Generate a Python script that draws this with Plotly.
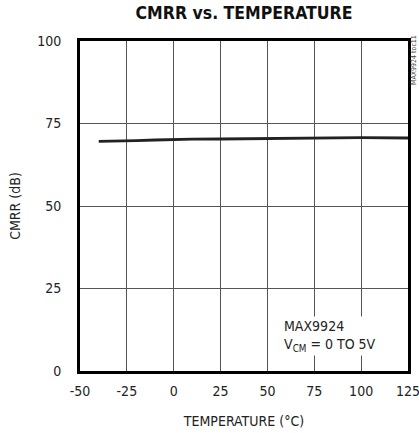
import plotly.graph_objects as go

temperature = [-40, -30, -20, -10, 0, 10, 25, 50, 75, 100, 125]
cmrr_db = [69.6, 69.6, 69.8, 70.0, 70.2, 70.25, 70.3, 70.4, 70.7, 70.7, 70.6]

x_ticks = [-50, -25, 0, 25, 50, 75, 100, 125]
x_tick_labels = ["-50", "-25", "0", "25", "50", "75", "100", "125"]
y_ticks = [0, 25, 50, 75, 100]

FONT = "DejaVu Sans Condensed, Liberation Sans Narrow, sans-serif"

fig = go.Figure()
fig.add_trace(go.Scatter(x=temperature, y=cmrr_db, mode="lines",
                         line=dict(color="#222222", width=2.8), showlegend=False))

fig.update_layout(
    width=419, height=433,
    margin=dict(l=80, r=11, t=41, b=62, autoexpand=False),
    paper_bgcolor="white", plot_bgcolor="white",
    font=dict(family=FONT, size=14, color="#222"),
    title=dict(text="<b>CMRR vs. TEMPERATURE</b>", x=0.5, xref="paper", xanchor="center",
               y=0.985, yanchor="top", font=dict(family=FONT, size=17.5, color="#111")),
    xaxis=dict(range=[-50, 125], tickvals=x_ticks, ticktext=x_tick_labels,
               showgrid=True, gridcolor="#555",
               gridwidth=1, zeroline=False, showline=True, linecolor="black",
               linewidth=3, mirror=True, ticks="", automargin=False,
               ticklabelstandoff=5, ticklabeloverflow="allow",
               title=dict(text="TEMPERATURE (°C)", standoff=19, font=dict(size=14))),
    yaxis=dict(range=[0, 100], tickvals=y_ticks, showgrid=True, gridcolor="#555",
               gridwidth=1, zeroline=False, showline=True, linecolor="black",
               linewidth=3, mirror=True, ticks="", automargin=False,
               ticklabelstandoff=13, ticklabeloverflow="allow",
               title=dict(text="CMRR (dB)", standoff=14, font=dict(size=14))),
)

fig.add_annotation(x=58, y=4.5, xref="x", yref="y", xanchor="left", yanchor="bottom",
                   text="MAX9924<br>V<sub>CM</sub> = 0 TO 5V", showarrow=False,
                   align="left", bgcolor="white", borderpad=1, font=dict(size=14, color="#222"))
fig.add_annotation(x=1.0, y=1.0, xref="paper", yref="paper", xanchor="left", yanchor="top",
                   xshift=0, yshift=8, text="MAX9924 toc11", textangle=-90, showarrow=False,
                   font=dict(size=7, color="#444"))

fig.write_html("out.html", config={"displayModeBar": False},
               post_script="document.body.style.margin='0';")
